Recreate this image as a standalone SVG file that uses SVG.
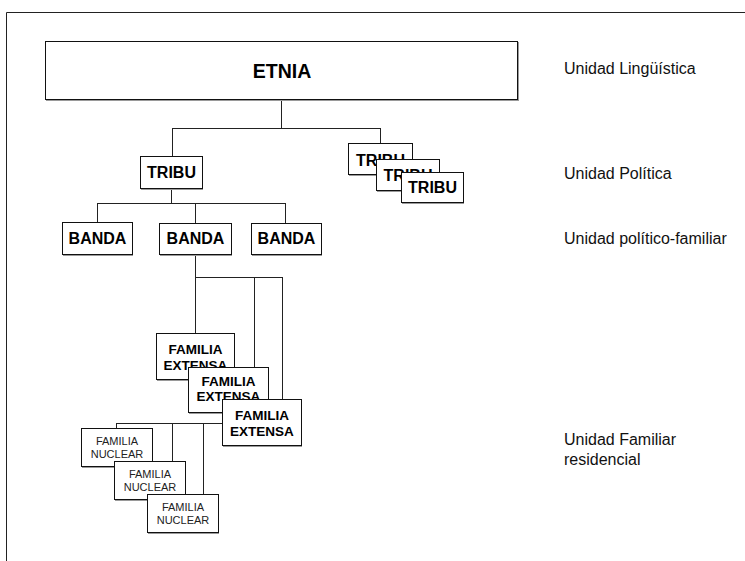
<svg xmlns="http://www.w3.org/2000/svg" width="745" height="561" viewBox="0 0 745 561">
<style>
.box{fill:#fff;stroke:#111;stroke-width:1}
.sh{fill:#9a9a9a}
.ln{stroke:#222;stroke-width:1;fill:none}
.b16{font-family:"Liberation Sans",Arial,sans-serif;font-weight:bold;font-size:16px;fill:#000;text-anchor:middle}
.b20{font-family:"Liberation Sans",Arial,sans-serif;font-weight:bold;font-size:19.5px;fill:#000;text-anchor:middle}
.b13{font-family:"Liberation Sans",Arial,sans-serif;font-weight:bold;font-size:13.5px;fill:#000;text-anchor:middle}
.r11{font-family:"Liberation Sans",Arial,sans-serif;font-size:11px;fill:#222;text-anchor:middle}
.lab{font-family:"Liberation Sans",Arial,sans-serif;font-size:16px;fill:#111}
</style>
<rect width="745" height="561" fill="#fff"/>
<g id="frame">
<path class="ln" d="M6.5 561V12.5H745" stroke="#333"/>
</g>
<g id="connectors">
<path class="ln" d="M281.5 100V128.5M172.5 128.5H380.5M172.5 128V156M380.5 128V143"/>
<path class="ln" d="M171.5 189V203.5M97.5 203.5H285.5M97.5 203V222M195.5 203V223M285.5 203V223"/>
<path class="ln" d="M195.5 255V277.5" stroke-width="2"/>
<path class="ln" d="M195.5 277.5H282.5M195.5 277V333M254.5 277V367M282.5 277V399"/>
<path class="ln" d="M116.5 423.5H222M116.5 423V428M172.5 423V461M203.5 423V494"/>
</g>
<g id="etnia">
<rect class="sh" x="46" y="42" width="473" height="59"/>
<rect class="box" x="45.5" y="41.5" width="472" height="58"/>
<text class="b20" x="282" y="77.5">ETNIA</text>
</g>
<g id="tribu">
<rect class="sh" x="141" y="157" width="62" height="33"/>
<rect class="box" x="140.5" y="156.5" width="62" height="32"/>
<text class="b16" x="171.5" y="178">TRIBU</text>
</g>
<g id="tribu2">
<rect class="sh" x="349" y="144" width="64" height="32"/>
<rect class="box" x="348.5" y="143.5" width="64" height="31"/>
<text class="b16" x="380.5" y="165.5">TRIBU</text>
</g>
<g id="tribu3">
<rect class="sh" x="377" y="160" width="63" height="32"/>
<rect class="box" x="376.5" y="159.5" width="63" height="31"/>
<text class="b16" x="408" y="180.5">TRIBU</text>
</g>
<g id="tribu4">
<rect class="sh" x="402" y="173" width="62" height="31"/>
<rect class="box" x="401.5" y="172.5" width="62" height="30"/>
<text class="b16" x="432.5" y="192.5">TRIBU</text>
</g>
<g id="banda1">
<rect class="sh" x="63" y="223" width="70" height="33"/>
<rect class="box" x="62.5" y="222.5" width="70" height="32"/>
<text class="b16" x="97.5" y="244">BANDA</text>
</g>
<g id="banda2">
<rect class="sh" x="160" y="224" width="72" height="32"/>
<rect class="box" x="159.5" y="223.5" width="72" height="31"/>
<text class="b16" x="195.5" y="244">BANDA</text>
</g>
<g id="banda3">
<rect class="sh" x="252" y="224" width="70" height="32"/>
<rect class="box" x="251.5" y="223.5" width="70" height="31"/>
<text class="b16" x="286.5" y="244">BANDA</text>
</g>
<g id="extensa1">
<rect class="sh" x="157" y="334" width="78" height="47"/>
<rect class="box" x="156.5" y="333.5" width="78" height="46"/>
<text class="b13" x="195.5" y="353.5">FAMILIA</text>
<text class="b13" x="195.5" y="369.5">EXTENSA</text>
</g>
<g id="extensa2">
<rect class="sh" x="189" y="368" width="80" height="46"/>
<rect class="box" x="188.5" y="367.5" width="80" height="45"/>
<text class="b13" x="228.5" y="386">FAMILIA</text>
<text class="b13" x="228.5" y="401">EXTENSA</text>
</g>
<g id="extensa3">
<rect class="sh" x="223" y="400" width="79" height="47"/>
<rect class="box" x="222.5" y="399.5" width="79" height="46"/>
<text class="b13" x="262" y="419.5">FAMILIA</text>
<text class="b13" x="262" y="436">EXTENSA</text>
</g>
<g id="nuclear1">
<rect class="sh" x="82" y="429" width="71" height="39"/>
<rect class="box" x="81.5" y="428.5" width="71" height="38"/>
<text class="r11" x="117" y="445">FAMILIA</text>
<text class="r11" x="117" y="457.5">NUCLEAR</text>
</g>
<g id="nuclear2">
<rect class="sh" x="115" y="462" width="71" height="39"/>
<rect class="box" x="114.5" y="461.5" width="71" height="38"/>
<text class="r11" x="150" y="478">FAMILIA</text>
<text class="r11" x="150" y="491">NUCLEAR</text>
</g>
<g id="nuclear3">
<rect class="sh" x="148" y="495" width="71" height="39"/>
<rect class="box" x="147.5" y="494.5" width="71" height="38"/>
<text class="r11" x="183" y="511">FAMILIA</text>
<text class="r11" x="183" y="524">NUCLEAR</text>
</g>
<g id="labels">
<text class="lab" x="564" y="73.5">Unidad Lingüística</text>
<text class="lab" x="564" y="179">Unidad Política</text>
<text class="lab" x="564" y="243.5">Unidad político-familiar</text>
<text class="lab" x="564" y="445">Unidad Familiar</text>
<text class="lab" x="564" y="465">residencial</text>
</g>
</svg>
